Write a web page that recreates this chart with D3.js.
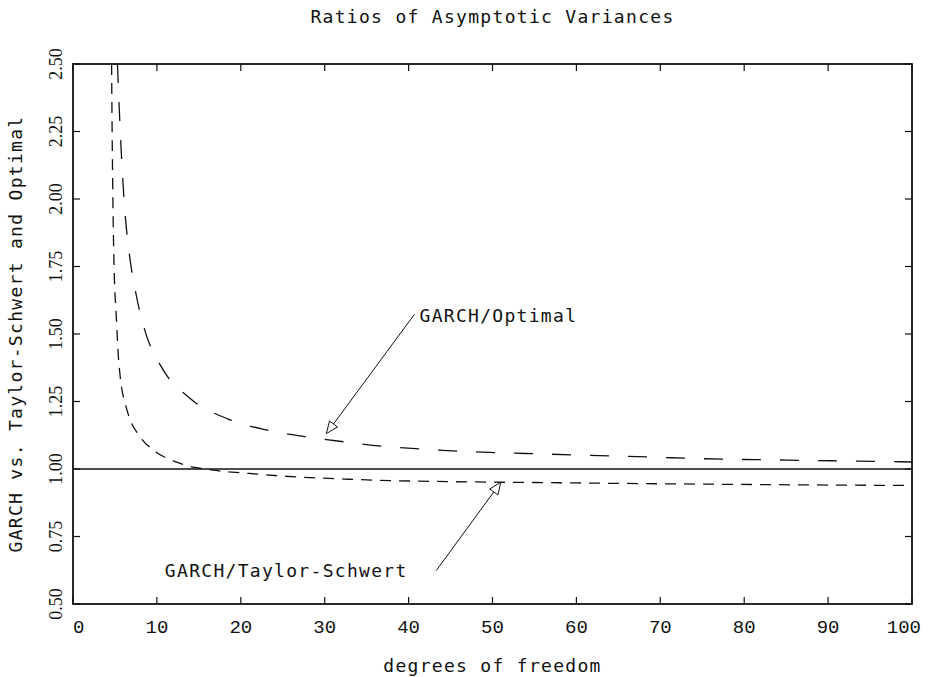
<!DOCTYPE html>
<html>
<head>
<meta charset="utf-8">
<script src="https://cdn.jsdelivr.net/npm/d3@7"></script>
<style>
    body { margin: 0; background: #fff; }
    svg { display: block; }
    .lab { font-family: "DejaVu Sans Mono", monospace; font-size: 18px; letter-spacing: 1.3px; fill: #111; }
    .xt { font-family: "Liberation Mono", monospace; font-size: 19px; fill: #111; }
    .yt { font-family: "Liberation Serif", serif; font-size: 18px; fill: #111; }
</style>
</head>
<body>
<div id="chart"></div>
<script>
// GARCH / Optimal ratio (long dashes)
const dfOptimal = [5.3, 5.45, 5.65, 5.9, 6.2, 6.7, 7.5, 8.5, 10.5, 14, 18.5, 23, 28, 32.5, 37, 42, 46, 51, 55.5, 60, 64.5, 69, 74, 78, 83, 87, 92, 96, 100];
const ratioOptimal = [2.50, 2.38, 2.24, 2.09, 1.95, 1.80, 1.65, 1.52, 1.38, 1.26, 1.185, 1.145, 1.118, 1.100, 1.084, 1.073, 1.066, 1.060, 1.056, 1.052, 1.048, 1.044, 1.039, 1.036, 1.034, 1.032, 1.030, 1.028, 1.026];

// GARCH / Taylor-Schwert ratio (short dashes)
const dfTaylor = [4.6, 4.65, 4.73, 4.85, 5.2, 5.4, 5.6, 5.8, 6.2, 6.8, 7.8, 9.8, 12.1, 14.5, 16, 18, 20, 22, 24, 27, 29, 33, 38, 43, 48, 55, 64, 75, 88, 100];
const ratioTaylor = [2.50, 2.30, 2.06, 1.81, 1.54, 1.42, 1.35, 1.30, 1.245, 1.183, 1.127, 1.065, 1.028, 1.006, 0.999, 0.991, 0.986, 0.981, 0.976, 0.970, 0.967, 0.962, 0.957, 0.954, 0.952, 0.950, 0.947, 0.944, 0.941, 0.939];

const xTicks = [0, 10, 20, 30, 40, 50, 60, 70, 80, 90, 100];
const yTicks = [0.50, 0.75, 1.00, 1.25, 1.50, 1.75, 2.00, 2.25, 2.50];
const referenceLevel = 1.0;

// annotation text start and arrow (tail -> tip), in data units
const annoLabels = ["GARCH/Optimal", "GARCH/Taylor-Schwert"];
const annoText = [[41.3, 1.546], [10.95, 0.599]];
const annoTail = [[40.7, 1.573], [43.3, 0.624]];
const annoTip = [[30.2, 1.131], [51.0, 0.951]];

const width = 936;
const height = 677;
const margin = { top: 64, right: 24, bottom: 73, left: 73 };
const innerW = width - margin.left - margin.right;
const innerH = height - margin.top - margin.bottom;

const svg = d3.select("#chart")
    .append("svg")
    .attr("width", width)
    .attr("height", height);

const g = svg.append("g")
    .attr("transform", `translate(${margin.left},${margin.top})`);

const x = d3.scaleLinear().domain([0, 100]).range([0, innerW]);
const y = d3.scaleLinear().domain([0.5, 2.5]).range([innerH, 0]);

// clip so the curves stop at the frame
g.append("clipPath").attr("id", "clip")
    .append("rect").attr("width", innerW).attr("height", innerH);

// inward ticks on all four sides
const tickLen = 7;
const ticks = g.append("g").attr("stroke", "#111").attr("stroke-width", 1.2);
xTicks.forEach(v => {
    ticks.append("line").attr("x1", x(v)).attr("x2", x(v)).attr("y1", innerH).attr("y2", innerH - tickLen);
    ticks.append("line").attr("x1", x(v)).attr("x2", x(v)).attr("y1", 0).attr("y2", tickLen);
});
yTicks.forEach(v => {
    ticks.append("line").attr("x1", 0).attr("x2", tickLen).attr("y1", y(v)).attr("y2", y(v));
    ticks.append("line").attr("x1", innerW).attr("x2", innerW - tickLen).attr("y1", y(v)).attr("y2", y(v));
});

// tick labels
g.append("g").selectAll("text")
    .data(xTicks)
    .join("text")
    .attr("class", "xt")
    .attr("x", d => d === 0 ? x(d) : d === 100 ? x(d) + 9 : x(d))
    .attr("y", innerH + 29)
    .attr("text-anchor", d => d === 0 ? "start" : d === 100 ? "end" : "middle")
    .text(d => d);

g.append("g").selectAll("text")
    .data(yTicks)
    .join("text")
    .attr("class", "yt")
    .attr("transform", d => `translate(-11,${y(d)}) rotate(-90)`)
    .attr("text-anchor", "middle")
    .text(d => d3.format(".2f")(d));

// reference line at 1.00
g.append("line")
    .attr("x1", 0).attr("x2", innerW)
    .attr("y1", y(referenceLevel)).attr("y2", y(referenceLevel))
    .attr("stroke", "#111")
    .attr("stroke-width", 1.3);

const line = d3.line()
    .x(d => x(d[0]))
    .y(d => y(d[1]))
    .curve(d3.curveMonotoneX);

const curves = g.append("g").attr("clip-path", "url(#clip)");

curves.append("path")
    .datum(d3.zip(dfOptimal, ratioOptimal))
    .attr("d", line)
    .attr("fill", "none")
    .attr("stroke", "#111")
    .attr("stroke-width", 1.3)
    .attr("stroke-dasharray", "19,19");

curves.append("path")
    .datum(d3.zip(dfTaylor, ratioTaylor))
    .attr("d", line)
    .attr("fill", "none")
    .attr("stroke", "#111")
    .attr("stroke-width", 1.3)
    .attr("stroke-dasharray", "11,8");

// frame
g.append("rect")
    .attr("width", innerW)
    .attr("height", innerH)
    .attr("fill", "none")
    .attr("stroke", "#111")
    .attr("stroke-width", 1.8);

// annotations with open arrowheads
annoLabels.forEach((label, i) => {
    const [tx, ty] = [x(annoTail[i][0]), y(annoTail[i][1])];
    const [hx, hy] = [x(annoTip[i][0]), y(annoTip[i][1])];
    const len = Math.hypot(hx - tx, hy - ty);
    const ux = (hx - tx) / len, uy = (hy - ty) / len;
    const headLen = 12, headW = 5;
    const bx = hx - ux * headLen, by = hy - uy * headLen;

    g.append("line")
        .attr("x1", tx).attr("y1", ty)
        .attr("x2", bx).attr("y2", by)
        .attr("stroke", "#111")
        .attr("stroke-width", 1);

    g.append("polygon")
        .attr("points", [
            [hx, hy],
            [bx - uy * headW, by + ux * headW],
            [bx + uy * headW, by - ux * headW]
        ].map(p => p.join(",")).join(" "))
        .attr("fill", "#fff")
        .attr("stroke", "#111")
        .attr("stroke-width", 1);

    g.append("text")
        .attr("class", "lab")
        .attr("x", x(annoText[i][0]))
        .attr("y", y(annoText[i][1]))
        .text(label);
});

// titles
svg.append("text")
    .attr("class", "lab")
    .attr("x", margin.left + innerW / 2)
    .attr("y", 23)
    .attr("text-anchor", "middle")
    .text("Ratios of Asymptotic Variances");

svg.append("text")
    .attr("class", "lab")
    .attr("x", margin.left + innerW / 2)
    .attr("y", 672)
    .attr("text-anchor", "middle")
    .text("degrees of freedom");

svg.append("text")
    .attr("class", "lab")
    .attr("transform", `translate(22,${margin.top + innerH / 2}) rotate(-90)`)
    .attr("text-anchor", "middle")
    .text("GARCH vs. Taylor-Schwert and Optimal");
</script>
</body>
</html>
